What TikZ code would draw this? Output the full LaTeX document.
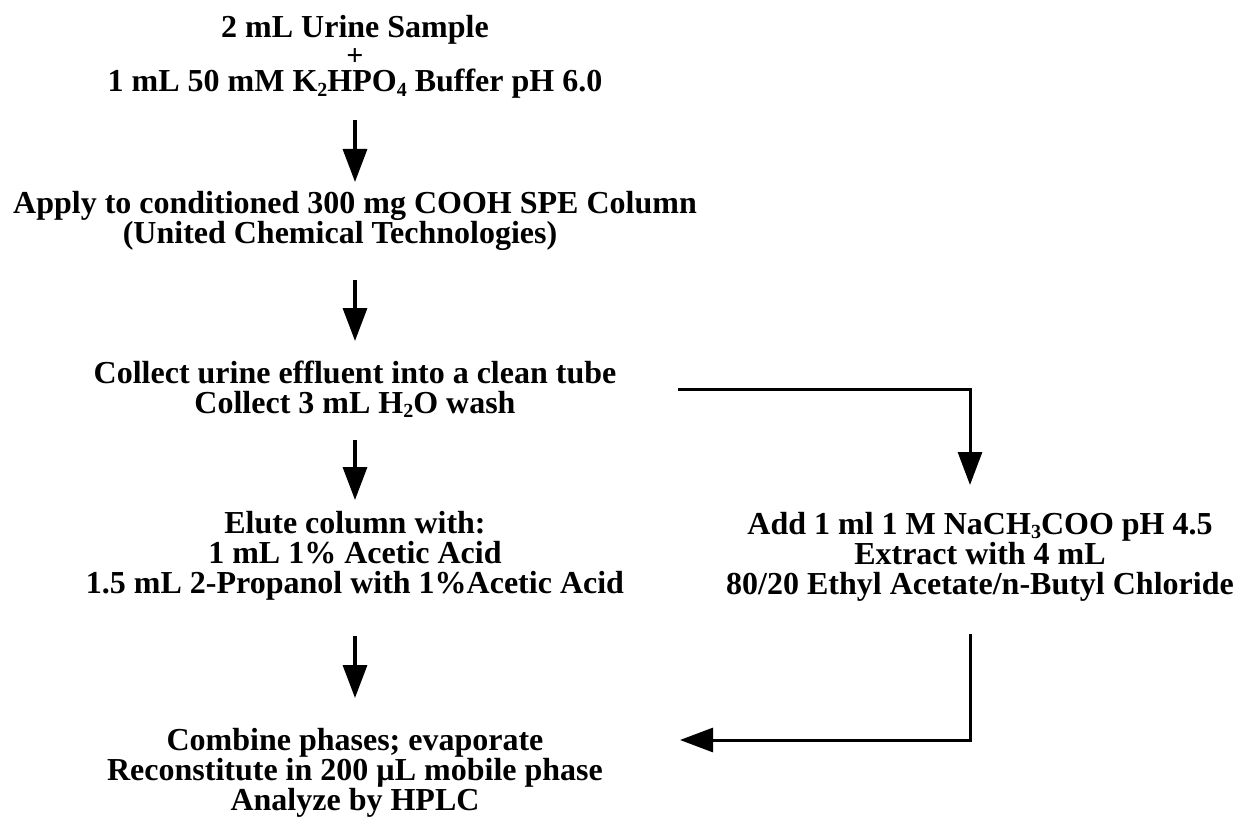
\documentclass[tikz,border=0pt]{standalone}
\usepackage{fontspec}
\setmainfont{Liberation Serif}
\usepackage{tikz}
\usetikzlibrary{arrows.meta,positioning}

\newcommand{\chsub}[1]{\raisebox{-0.3ex}{\fontsize{20}{20}\selectfont #1}}

\begin{document}
\begin{tikzpicture}[x=1pt, y=-1pt, every node/.style={font=\bfseries\fontsize{32}{30}\selectfont}, align=center]
  \tikzset{stage/.style={inner sep=0pt, align=center, anchor=base}, arr/.style={-{Triangle[length=33pt,width=24pt]}, line width=3.4pt}, link/.style={-{Triangle[length=33pt,width=24pt]}, line width=3pt}}
  \useasboundingbox (0,0) rectangle (1244,821);
  % anchor=base sits on the last line of each block
  \node[stage, font=\bfseries\fontsize{32}{27}\selectfont] (sample) at (355,92) {2 mL Urine Sample\\[1pt]{\fontsize{30}{27}\selectfont +}\\[-1pt]1 mL 50 mM K\chsub{2}HPO\chsub{4} Buffer pH 6.0};
  \node[stage] (apply) at (355,243) {Apply to conditioned 300 mg COOH SPE Column\\(United Chemical Technologies)\hspace*{30pt}};
  \node[stage] (collect) at (355,413) {Collect urine effluent into a clean tube\\Collect 3 mL H\chsub{2}O wash};
  \node[stage] (elute) at (355,593) {Elute column with:\\1 mL 1\% Acetic Acid\\1.5 mL 2-Propanol with 1\%Acetic Acid};
  \node[stage, font=\bfseries\fontsize{32}{30}\selectfont] (extract) at (980,594) {Add 1 ml 1 M NaCH\chsub{3}COO pH 4.5\\Extract with 4 mL\\80/20 Ethyl Acetate/n-Butyl Chloride};
  \node[stage] (combine) at (355,810) {Combine phases; evaporate\\Reconstitute in 200 µL mobile phase\\Analyze by HPLC};
  \coordinate (split) at (678,389);
  \coordinate (merge) at (680,740);
  \draw[arr] (355,120) -- (355,182);
  \draw[arr] (355,280) -- (355,341);
  \draw[arr] (355,440) -- (355,500);
  \draw[arr] (355,636) -- (355,698);
  \draw[link] (split) -| (970,485);
  \draw[link] (970,634) |- (merge);
\end{tikzpicture}
\end{document}
